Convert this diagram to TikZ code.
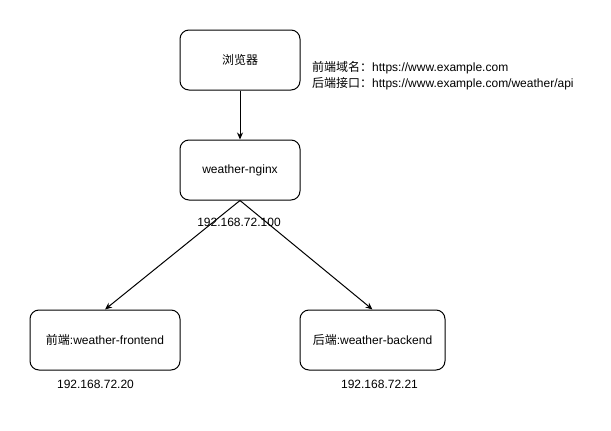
\documentclass[tikz,border=0pt]{standalone}
\usepackage{fontspec}
\setmainfont{Liberation Sans}
\newfontfamily\cjk{Noto Sans CJK SC}
\usetikzlibrary{arrows.meta}

\begin{document}
\begin{tikzpicture}[x=1pt, y=-1pt,
  box/.style={draw, line width=1pt, rounded corners=9pt, minimum height=60pt, inner sep=0pt, font=\fontsize{12}{14}\selectfont},
  iplabel/.style={font=\fontsize{12}{14}\selectfont, inner sep=0pt},
  arr/.style={line width=1pt, -{Stealth[length=7pt, width=6pt]}}]
\useasboundingbox (0,0) rectangle (611,431);

%%%%%%%%%% Boxes %%%%%%%%
\node[box, minimum width=120pt] (browser) at (240,60) {{\cjk 浏览器}};
\node[box, minimum width=120pt] (nginx) at (240,170) {weather-nginx};
\node[box, minimum width=150pt] (front) at (105,340) {{\cjk 前端}:weather-frontend};
\node[box, minimum width=145pt] (back) at (372.5,340) {{\cjk 后端}:weather-backend};

%%%%%%%%%% Labels %%%%%%%%
\node[iplabel] (ipnginx) at (239,222) {192.168.72.100};
\node[iplabel] (ipfront) at (95.5,384) {192.168.72.20};
\node[iplabel] (ipback) at (379.5,384) {192.168.72.21};
\node[iplabel, anchor=west, align=left, font=\fontsize{12}{16.5}\selectfont] (urls) at (312,75.5)
  {{\cjk 前端域名：}https://www.example.com\\{\cjk 后端接口：}https://www.example.com/weather/api};

%%%%%%%%%% Arrows %%%%%%%%
\draw[arr] (browser.south) -- (nginx.north);
\draw[arr] (nginx.south) -- (front.north);
\draw[arr] (nginx.south) -- (back.north);

\end{tikzpicture}
\end{document}
